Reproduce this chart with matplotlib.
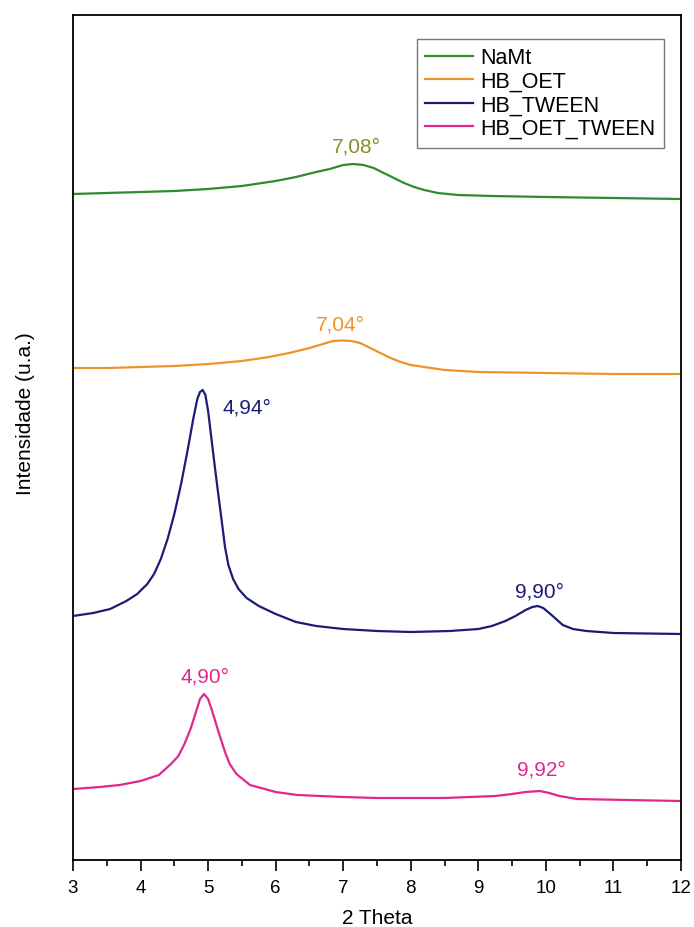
import numpy as np
import matplotlib
matplotlib.use("Agg")
import matplotlib.pyplot as plt
from matplotlib.ticker import MultipleLocator

plt.rcParams['font.family'] = ['Liberation Sans', 'DejaVu Sans']

# -------------------------------
# Data (intensity in arbitrary units, offset stack)
# -------------------------------
namt_x = [3.0, 3.5, 4.0, 4.5, 5.0, 5.5, 5.8, 6.0, 6.3, 6.6, 6.8, 7.0, 7.15, 7.3,
          7.45, 7.6, 7.75, 7.9, 8.05, 8.2, 8.4, 8.7, 9.2, 10.0, 11.0, 12.0]
namt_y = [666, 667, 668, 669, 671, 674, 677, 679, 683, 688, 691, 695, 696, 695,
          692, 687, 682, 677, 673, 670, 667, 665, 664, 663, 662, 661]

oet_x = [3.0, 3.5, 4.0, 4.5, 5.0, 5.5, 5.9, 6.2, 6.5, 6.7, 6.85, 7.0, 7.12, 7.25,
         7.4, 7.55, 7.7, 7.85, 8.0, 8.2, 8.5, 9.0, 10.0, 11.0, 12.0]
oet_y = [492, 492, 493, 494, 496, 499, 503, 507, 512, 516, 519, 519.5, 519, 517,
         512, 507, 502, 498, 495, 493, 490, 488, 487, 486, 486]

tween_x = [3.0, 3.3, 3.55, 3.79, 3.95, 4.1, 4.2, 4.3, 4.4, 4.5, 4.6, 4.7, 4.78,
           4.84, 4.88, 4.92, 4.96, 5.0, 5.05, 5.1, 5.15, 5.2, 5.25, 5.3, 5.37,
           5.45, 5.57, 5.75, 6.0, 6.3, 6.6, 7.0, 7.5, 8.0, 8.58, 9.0, 9.2, 9.4,
           9.55, 9.7, 9.8, 9.88, 9.96, 10.05, 10.15, 10.25, 10.4, 10.6, 11.0, 12.0]
tween_y = [244, 247, 251, 259, 266, 276, 286, 301, 321, 346, 376, 411, 441,
           461, 468, 470, 465, 449, 421, 393, 366, 340, 313, 295, 281,
           271, 262, 254, 246, 238, 234, 231, 229, 228, 229, 231, 234, 239,
           244, 250, 253, 254, 252, 247, 241, 235, 231, 229, 227, 226]

oet_tween_x = [3.0, 3.4, 3.69, 4.0, 4.27, 4.45, 4.56, 4.65, 4.74, 4.82, 4.88,
               4.94, 5.0, 5.06, 5.15, 5.25, 5.32, 5.42, 5.62, 6.0, 6.32, 7.0,
               7.5, 8.5, 9.25, 9.5, 9.7, 9.91, 10.05, 10.2, 10.46, 11.2, 12.0]
oet_tween_y = [71, 73, 75, 79, 85, 96, 104, 116, 131, 148, 161,
               166, 161, 149, 129, 108, 96, 86, 75, 68, 65, 63,
               62, 62, 64, 66, 68, 69, 67, 64, 61, 60, 59]

labels = ["NaMt", "HB_OET", "HB_TWEEN", "HB_OET_TWEEN"]
colors = ["#2e8b2e", "#f0922b", "#1c1c78", "#e0288c"]

# peak annotations: text, x, y, colour
peak_text = ["7,08°", "7,04°", "4,94°", "9,90°", "4,90°", "9,92°"]
peak_x = [7.2, 6.96, 5.57, 9.91, 4.95, 9.94]
peak_y = [714, 536, 453, 269, 184, 91]
peak_col = ["#8a8a2e", "#f0922b", "#1c1c78", "#1c1c78", "#e0288c", "#e0288c"]

# -------------------------------
# Plot
# -------------------------------
fig = plt.figure(figsize=(6.94, 9.28), dpi=100)
ax = fig.add_axes([73 / 694, 67 / 928, 608 / 694, 845 / 928])

series = [(namt_x, namt_y), (oet_x, oet_y), (tween_x, tween_y), (oet_tween_x, oet_tween_y)]
for (xs, ys), lab, col in zip(series, labels, colors):
    ax.plot(xs, ys, color=col, lw=1.6, label=lab, solid_joinstyle='round')

for t, x, y, c in zip(peak_text, peak_x, peak_y, peak_col):
    ax.text(x, y, t, color=c, fontsize=15, ha='center', va='center')

ax.set_xlim(3, 12)
ax.set_ylim(0, 845)
ax.xaxis.set_major_locator(MultipleLocator(1))
ax.xaxis.set_minor_locator(MultipleLocator(0.5))
ax.tick_params(axis='x', which='major', direction='out', length=8, width=1.2,
               labelsize=13.5, pad=6, top=False)
ax.tick_params(axis='x', which='minor', direction='out', length=4, width=1.2, top=False)
ax.set_yticks([])
for s in ax.spines.values():
    s.set_linewidth(1.3)

ax.set_xlabel("2 Theta", fontsize=15, labelpad=8)
ax.set_ylabel("Intensidade (u.a.)", fontsize=15)
ax.yaxis.set_label_coords(-0.062, 0.53)

leg = ax.legend(loc='upper right', bbox_to_anchor=(0.972, 0.972), fontsize=15.5,
                frameon=True, fancybox=False, borderaxespad=0, handlelength=2.2,
                handletextpad=0.35, labelspacing=0.12, borderpad=0.4)
leg.get_frame().set_edgecolor('#555555')
leg.get_frame().set_linewidth(1.0)

fig.savefig("out.png", dpi=100)
